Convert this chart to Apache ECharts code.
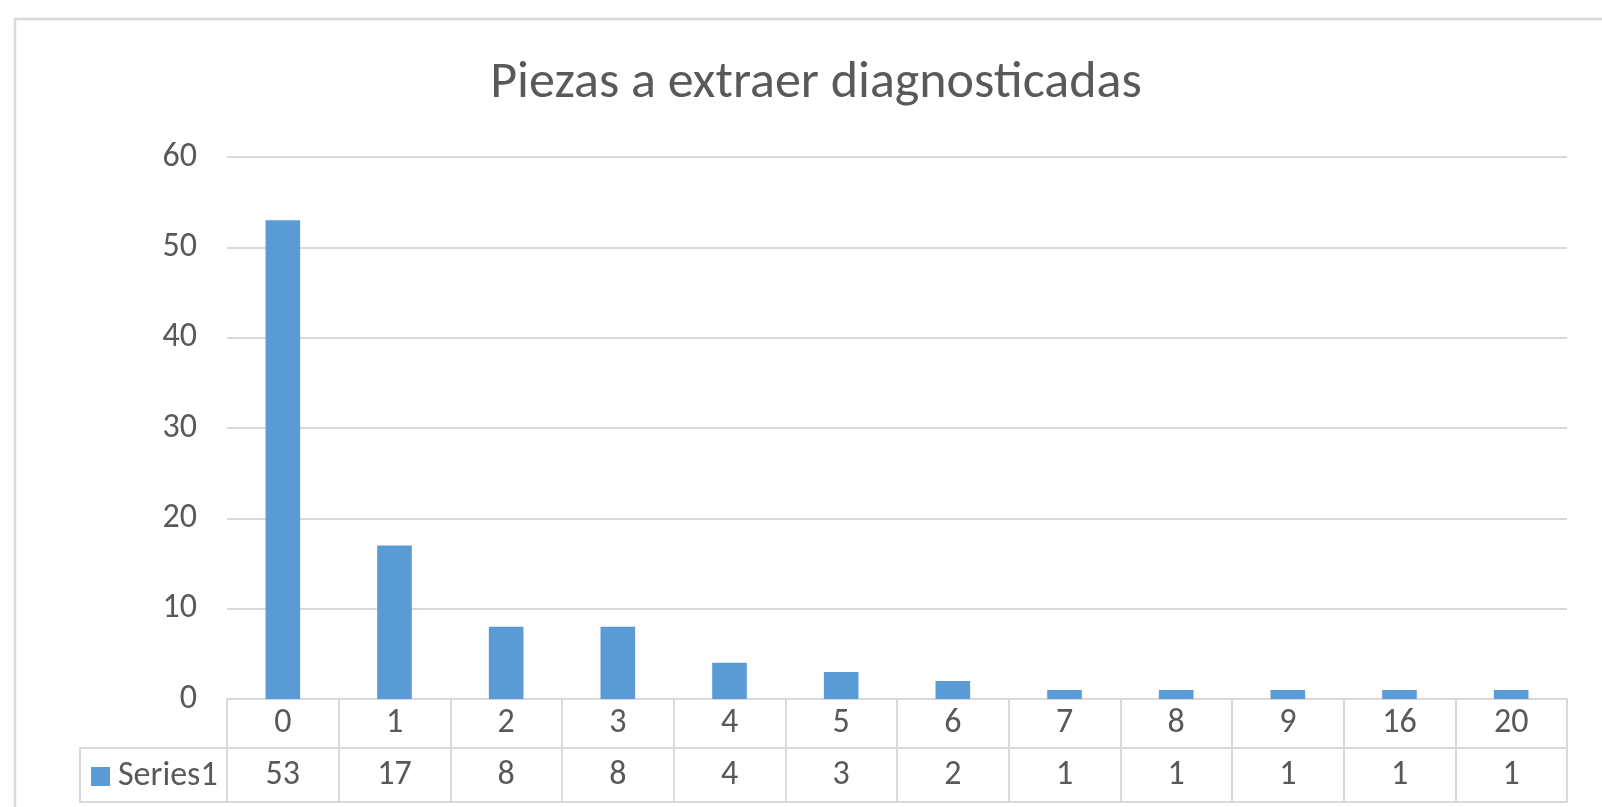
<!DOCTYPE html>
<html>
<head>
<meta charset="utf-8">
<title>Piezas a extraer diagnosticadas</title>
<script src="https://cdn.jsdelivr.net/npm/echarts@6/dist/echarts.min.js"></script>
<style>
  html, body { margin: 0; padding: 0; background: #fff; }
  #chart { width: 1602px; height: 807px; }
</style>
</head>
<body>
<div id="chart"></div>
<script>
// datos del grafico
const categories = ['0', '1', '2', '3', '4', '5', '6', '7', '8', '9', '16', '20'];
const counts = [53, 17, 8, 8, 4, 3, 2, 1, 1, 1, 1, 1];
const yTicks = { min: 0, max: 60, interval: 10 };
const seriesName = 'Series1';
const titleText = 'Piezas a extraer diagnosticadas';

const FONT = 'Carlito, Calibri, Lato, sans-serif';
const textColor = '#595959';
const lineColor = '#d9d9d9';
const labelSize = 34;

// layout (px)
const gridLeft = 227, gridRight = 35, gridTop = 157, gridBottom = 108;
const row1 = 49, row2 = 54;
const zeroY = 807 - gridBottom;
const legendCellLeft = 80;

const chart = echarts.init(document.getElementById('chart'));

const tableLine = { lineStyle: { color: lineColor, width: 2 } };

const option = {
  animation: false,
  title: {
    text: titleText,
    left: 811,
    top: 53,
    textAlign: 'center',
    textStyle: { fontFamily: FONT, fontSize: 52, fontWeight: 'normal', color: textColor }
  },
  legend: {
    data: [seriesName],
    left: 91,
    top: zeroY + row1 + (row2 - 19) / 2 - 6,
    padding: 0,
    icon: 'rect',
    itemWidth: 19,
    itemHeight: 19,
    itemGap: 6,
    selectedMode: false,
    textStyle: { fontFamily: FONT, fontSize: labelSize, color: textColor, padding: [0, 0, 0, 3] }
  },
  grid: { left: gridLeft, right: gridRight, top: gridTop, bottom: gridBottom },
  xAxis: [
    {
      type: 'category',
      data: categories,
      position: 'bottom',
      axisLine: tableLine,
      axisTick: { show: true, length: row1, ...tableLine },
      axisLabel: { margin: 0, lineHeight: row1, fontFamily: FONT, fontSize: labelSize, color: textColor }
    },
    {
      type: 'category',
      data: counts.map(String),
      position: 'bottom',
      offset: row1,
      axisLine: tableLine,
      axisTick: { show: true, length: row2, ...tableLine },
      axisLabel: { margin: 0, lineHeight: row2, fontFamily: FONT, fontSize: labelSize, color: textColor }
    },
    {
      type: 'category',
      data: categories,
      position: 'bottom',
      offset: row1 + row2,
      axisLine: tableLine,
      axisTick: { show: false },
      axisLabel: { show: false }
    }
  ],
  yAxis: {
    type: 'value',
    min: yTicks.min,
    max: yTicks.max,
    interval: yTicks.interval,
    axisLine: { show: false },
    axisTick: { show: false },
    axisLabel: { margin: 30, fontFamily: FONT, fontSize: labelSize, color: textColor },
    splitLine: { lineStyle: { color: lineColor, width: 2 } }
  },
  series: [
    {
      name: seriesName,
      type: 'bar',
      xAxisIndex: 0,
      data: counts,
      barWidth: '31%',
      itemStyle: { color: '#5b9bd5' }
    }
  ],
  graphic: [
    // marco del area del grafico
    {
      type: 'rect',
      shape: { x: 15, y: 19, width: 1610, height: 820 },
      style: { fill: 'none', stroke: lineColor, lineWidth: 2.5 },
      silent: true
    },
    // celda de la leyenda en la tabla
    {
      type: 'polyline',
      shape: { points: [[gridLeft, zeroY + row1], [legendCellLeft, zeroY + row1], [legendCellLeft, zeroY + row1 + row2], [gridLeft, zeroY + row1 + row2]] },
      style: { fill: 'none', stroke: lineColor, lineWidth: 2 },
      silent: true
    }
  ]
};

chart.setOption(option);
</script>
</body>
</html>
